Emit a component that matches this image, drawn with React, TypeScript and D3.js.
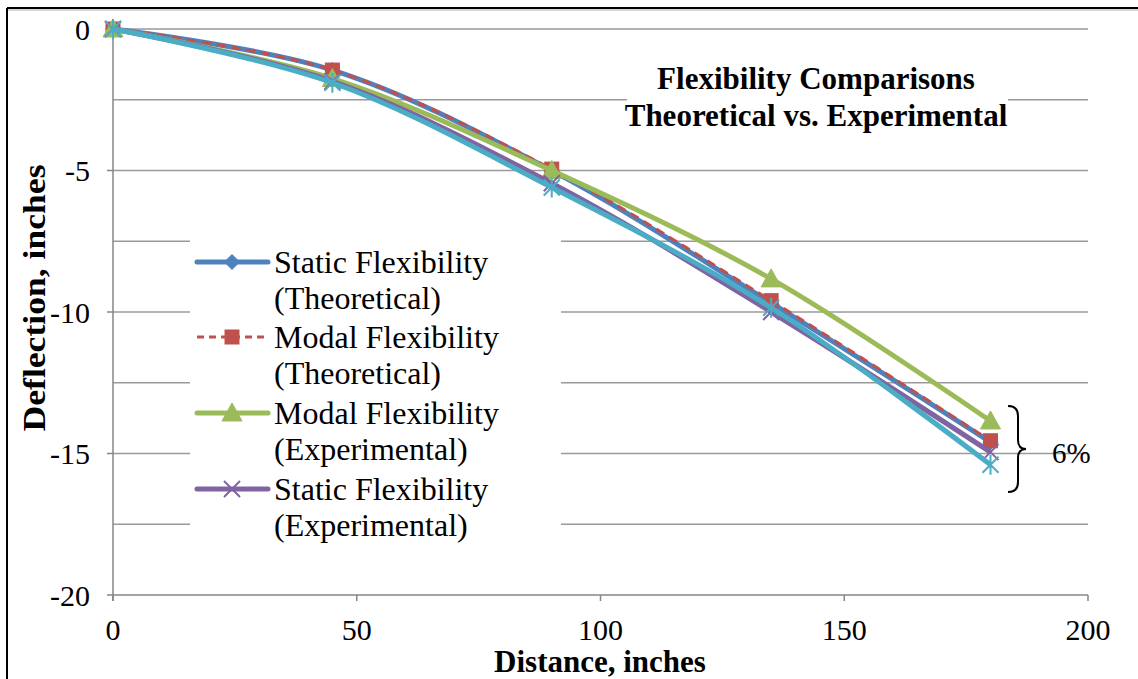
import React from "react";
import * as d3 from "d3";

const distances = [0, 45, 90, 135, 180];
const staticTheoretical = [0, -1.45, -5.0, -9.68, -14.6];
const modalTheoretical = [0, -1.45, -4.95, -9.6, -14.55];
const modalExperimental = [0, -1.75, -5.0, -8.83, -13.85];
const staticExperimental = [0, -1.85, -5.45, -10.0, -14.95];
const extraSeries = [0, -1.9, -5.6, -9.85, -15.4];

const xTicks = [0, 50, 100, 150, 200];
const yTicks = [0, -5, -10, -15, -20];
const yGrid = [0, -2.5, -5, -7.5, -10, -12.5, -15, -17.5, -20];

const W = 1138, H = 679;
const FONT = '"Liberation Serif", "Tinos", "Times New Roman", Times, serif';

type S = { name: string[]; vals: number[]; color: string; marker: string; dash?: string; width: number; legend: boolean };
const series: S[] = [
  { name: ["Static Flexibility", "(Theoretical)"], vals: staticTheoretical, color: "#4F81BD", marker: "diamond", width: 5, legend: true },
  { name: ["Modal Flexibility", "(Theoretical)"], vals: modalTheoretical, color: "#C0504D", marker: "square", dash: "9,6", width: 3, legend: true },
  { name: ["Modal Flexibility", "(Experimental)"], vals: modalExperimental, color: "#9BBB59", marker: "triangle", width: 5, legend: true },
  { name: ["Static Flexibility", "(Experimental)"], vals: staticExperimental, color: "#8064A2", marker: "x", width: 5, legend: true },
  { name: ["Series 5"], vals: extraSeries, color: "#4BACC6", marker: "star", width: 5, legend: false },
];

function Marker({ type, x, y, color }: { type: string; x: number; y: number; color: string }) {
  const s = 7.5;
  if (type === "diamond") return <path d={`M${x},${y - s}L${x + s},${y}L${x},${y + s}L${x - s},${y}Z`} fill={color} stroke={color} strokeWidth={1} />;
  if (type === "square") return <rect x={x - 7} y={y - 7} width={14} height={14} fill={color} stroke={color} strokeWidth={1} />;
  if (type === "triangle") return <path d={`M${x},${y - 10}L${x + 10},${y + 8}L${x - 10},${y + 8}Z`} fill={color} stroke={color} strokeWidth={1} />;
  if (type === "x") return <path d={`M${x - 8},${y - 8}L${x + 8},${y + 8}M${x - 8},${y + 8}L${x + 8},${y - 8}`} stroke={color} strokeWidth={2} fill="none" />;
  return (
    <path
      d={`M${x - 8},${y - 8}L${x + 8},${y + 8}M${x - 8},${y + 8}L${x + 8},${y - 8}M${x},${y - 10}L${x},${y + 10}`}
      stroke={color}
      strokeWidth={2}
      fill="none"
    />
  );
}

const txt = { fontFamily: FONT };

export default function App() {
  const x = d3.scaleLinear().domain([0, 200]).range([113, 1088]);
  const y = d3.scaleLinear().domain([0, -20]).range([29, 595]);
  const line = d3
    .line<number>()
    .x((_, i) => x(distances[i]))
    .y((v) => y(v))
    .curve(d3.curveCatmullRom.alpha(0.5));

  const legendRows = [262, 337, 413, 489];

  return (
    <svg width={W} height={H} style={{ position: "absolute", left: 0, top: 0, background: "#fff", fontFamily: FONT }}>
      <rect x={0} y={0} width={W} height={H} fill="#fff" />
      {/* frame */}
      <line x1={7} y1={8} x2={W} y2={8} stroke="#000" strokeWidth={2} />
      <line x1={7} y1={8} x2={7} y2={H} stroke="#000" strokeWidth={2} />
      <line x1={8} y1={10} x2={W} y2={10} stroke="#b0b0b0" strokeWidth={1} />

      {/* gridlines */}
      {yGrid.slice(0, -1).map((v) => (
        <line key={v} x1={x(0)} x2={x(200)} y1={y(v)} y2={y(v)} stroke="#9a9a9a" strokeWidth={1.5} />
      ))}
      {/* axes */}
      <line x1={x(0)} x2={x(0)} y1={y(0)} y2={y(-20) + 6} stroke="#868686" strokeWidth={1.5} />
      <line x1={x(0)} x2={x(200)} y1={y(-20)} y2={y(-20)} stroke="#868686" strokeWidth={1.5} />
      {yTicks.map((v) => (
        <line key={v} x1={x(0) - 6} x2={x(0)} y1={y(v)} y2={y(v)} stroke="#868686" strokeWidth={1.5} />
      ))}
      {xTicks.map((v) => (
        <line key={v} x1={x(v)} x2={x(v)} y1={y(-20)} y2={y(-20) + 6} stroke="#868686" strokeWidth={1.5} />
      ))}
      {yTicks.map((v) => (
        <text key={v} x={90} y={y(v)} dy="0.35em" textAnchor="end" fontSize={30} fill="#000" style={txt}>
          {v}
        </text>
      ))}
      {xTicks.map((v) => (
        <text key={v} x={x(v)} y={640} textAnchor="middle" fontSize={30} fill="#000" style={txt}>
          {v}
        </text>
      ))}

      {/* title background + title */}
      <rect x={627} y={60} width={381} height={76} fill="#fff" />
      <text x={816} y={89} textAnchor="middle" fontSize={31} fontWeight="bold" style={txt}>
        Flexibility Comparisons
      </text>
      <text x={816} y={126} textAnchor="middle" fontSize={31} fontWeight="bold" style={txt}>
        Theoretical vs. Experimental
      </text>

      {/* legend background */}
      <rect x={190} y={238} width={371} height={305} fill="#fff" />

      {/* series */}
      {series.map((s, si) => (
        <g key={si}>
          <path d={line(s.vals) || ""} fill="none" stroke={s.color} strokeWidth={s.width} strokeDasharray={s.dash} strokeLinejoin="round" />
          {s.vals.map((v, i) => (
            <Marker key={i} type={s.marker} x={x(distances[i])} y={y(v)} color={s.color} />
          ))}
        </g>
      ))}

      {/* legend */}
      {series
        .filter((s) => s.legend)
        .map((s, i) => {
          const ly = legendRows[i];
          return (
            <g key={i}>
              <line x1={197} x2={268} y1={ly} y2={ly} stroke={s.color} strokeWidth={s.width} strokeDasharray={s.dash ? "7,5" : undefined} strokeLinecap={s.dash ? "butt" : "round"} />
              <Marker type={s.marker} x={232} y={ly} color={s.color} />
              <text x={274} y={ly} dy="0.35em" fontSize={32} style={txt}>
                {s.name[0]}
              </text>
              <text x={274} y={ly + 36} dy="0.35em" fontSize={32} style={txt}>
                {s.name[1]}
              </text>
            </g>
          );
        })}

      {/* brace and annotation */}
      <path
        d="M1008,406 Q1018,406 1018,416 L1018,440 Q1018,449 1026,449 Q1018,449 1018,458 L1018,482 Q1018,492 1008,492"
        fill="none"
        stroke="#000"
        strokeWidth={2}
      />
      <text x={1052} y={453} dy="0.35em" fontSize={29} style={txt}>
        6%
      </text>

      {/* axis titles */}
      <text x={600} y={672} textAnchor="middle" fontSize={31} fontWeight="bold" style={txt}>
        Distance, inches
      </text>
      <text transform="translate(45,298) rotate(-90)" textAnchor="middle" fontSize={32} fontWeight="bold" textLength={267} lengthAdjust="spacingAndGlyphs" style={txt}>
        Deflection, inches
      </text>
    </svg>
  );
}
